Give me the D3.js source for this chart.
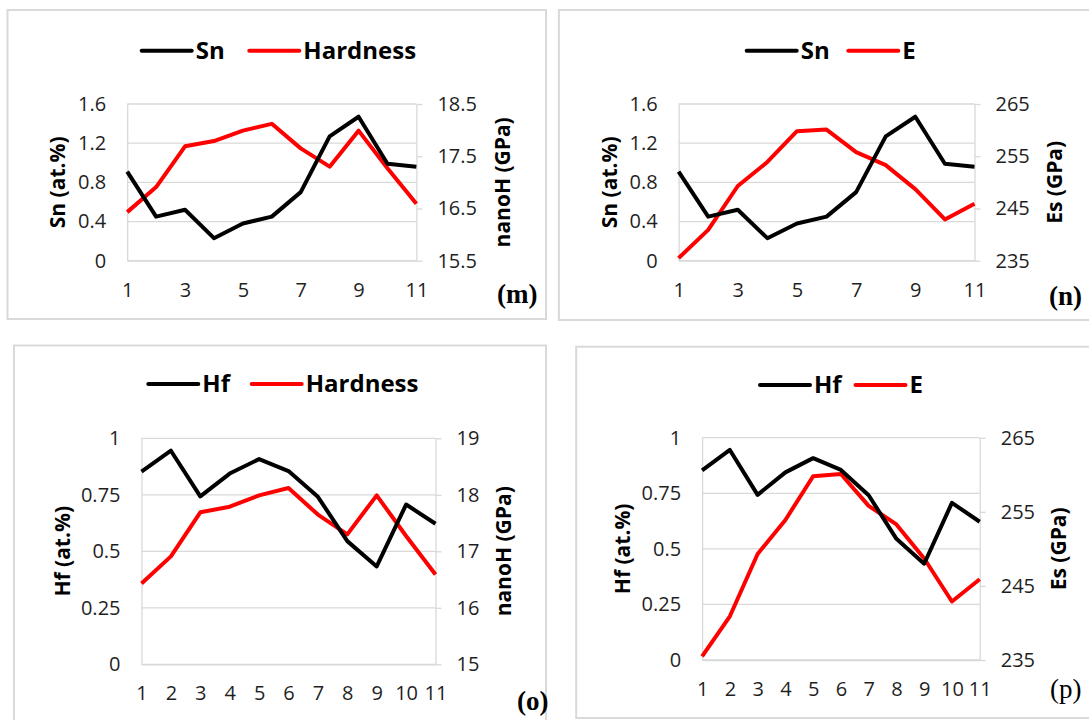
<!DOCTYPE html>
<html>
<head>
<meta charset="utf-8">
<script src="https://cdn.jsdelivr.net/npm/d3@7"></script>
<style>
  html, body { margin: 0; padding: 0; background: #fff; }
  svg { display: block; }
</style>
</head>
<body>
<svg id="chart" width="1089" height="720"></svg>
<script>
// Sample positions along the measured track
const positions = [1, 2, 3, 4, 5, 6, 7, 8, 9, 10, 11];

// Composition (at.%)
const snContent = [0.91, 0.45, 0.52, 0.23, 0.38, 0.45, 0.70, 1.27, 1.47, 0.99, 0.96];
const hfContent = [0.853, 0.945, 0.743, 0.844, 0.908, 0.855, 0.741, 0.545, 0.433, 0.707, 0.622];

// Mechanical properties (GPa)
const nanoHardness = [16.43, 16.91, 17.69, 17.79, 17.99, 18.12, 17.65, 17.30, 17.99, 17.27, 16.59];
const modulus = [235.5, 240.9, 249.3, 253.9, 259.8, 260.1, 255.8, 253.3, 248.7, 242.9, 245.9];

// Axis tick values
const snTicks = [0, 0.4, 0.8, 1.2, 1.6];
const hfTicks = [0, 0.25, 0.5, 0.75, 1];
const hardnessTicksTop = [15.5, 16.5, 17.5, 18.5];
const hardnessTicksBottom = [15, 16, 17, 18, 19];
const modulusTicks = [235, 245, 255, 265];
const oddPositions = [1, 3, 5, 7, 9, 11];
const allPositions = positions;

const FONT = "'Open Sans', 'Noto Sans', sans-serif";
const GRID = "#d9d9d9";
const LABEL = "#1f1f1f";

const panels = [
  {
    tag: "(m)", tagBold: true, tagX: 497, tagY: 303,
    frame: [7.5, 10, 546, 319],
    plot: { l: 127.2, t: 104, r: 416.4, b: 260.7 },
    left: { name: "Sn", title: "Sn (at.%)", values: snContent, ticks: snTicks, titleX: 57.5 },
    right: { name: "Hardness", title: "nanoH (GPa)", values: nanoHardness, ticks: hardnessTicksTop, titleX: 502.5 },
    xTicks: oddPositions, legendX: [141.7, 249.3], legendY: 50.7
  },
  {
    tag: "(n)", tagBold: true, tagX: 1049, tagY: 305,
    frame: [558.9, 10, 1100, 320],
    plot: { l: 678.6, t: 104, r: 974.5, b: 260.7 },
    left: { name: "Sn", title: "Sn (at.%)", values: snContent, ticks: snTicks, titleX: 609.2 },
    right: { name: "E", title: "Es (GPa)", values: modulus, ticks: modulusTicks, titleX: 1055 },
    xTicks: oddPositions, legendX: [746.7, 848.3], legendY: 50.7
  },
  {
    tag: "(o)", tagBold: true, tagX: 517, tagY: 710,
    frame: [14, 345.5, 546, 740],
    plot: { l: 141.5, t: 438.3, r: 435.5, b: 664.3 },
    left: { name: "Hf", title: "Hf (at.%)", values: hfContent, ticks: hfTicks, titleX: 62.6 },
    right: { name: "Hardness", title: "nanoH (GPa)", values: nanoHardness, ticks: hardnessTicksBottom, titleX: 504 },
    xTicks: allPositions, legendX: [148.3, 251.7], legendY: 384
  },
  {
    tag: "(p)", tagBold: false, tagX: 1050, tagY: 698,
    frame: [576.2, 346.7, 1100, 718],
    plot: { l: 702.1, t: 437.7, r: 979.7, b: 660 },
    left: { name: "Hf", title: "Hf (at.%)", values: hfContent, ticks: hfTicks, titleX: 623 },
    right: { name: "E", title: "Es (GPa)", values: modulus, ticks: modulusTicks, titleX: 1058.3 },
    xTicks: allPositions, legendX: [760, 855.5], legendY: 385
  }
];

const svg = d3.select("#chart");
svg.append("rect").attr("width", 1089).attr("height", 720).attr("fill", "#fff");

panels.forEach(p => {
  const g = svg.append("g");
  const { l, t, r, b } = p.plot;

  // outer frame of the panel
  g.append("rect")
    .attr("x", p.frame[0]).attr("y", p.frame[1])
    .attr("width", p.frame[2] - p.frame[0]).attr("height", p.frame[3] - p.frame[1])
    .attr("fill", "none").attr("stroke", GRID).attr("stroke-width", 2);

  const x = d3.scaleLinear().domain([1, 11]).range([l, r]);
  const yL = d3.scaleLinear().domain([p.left.ticks[0], p.left.ticks[p.left.ticks.length - 1]]).range([b, t]);
  const yR = d3.scaleLinear().domain([p.right.ticks[0], p.right.ticks[p.right.ticks.length - 1]]).range([b, t]);

  // horizontal gridlines on the primary axis ticks
  g.append("g").selectAll("line").data(p.left.ticks).join("line")
    .attr("x1", l).attr("x2", r)
    .attr("y1", d => yL(d)).attr("y2", d => yL(d))
    .attr("stroke", GRID).attr("stroke-width", 1.3);

  // primary (left) axis
  const axL = g.append("g").attr("transform", `translate(${l},0)`)
    .call(d3.axisLeft(yL).tickValues(p.left.ticks).tickSize(0).tickPadding(21).tickFormat(d => String(d)));
  axL.select(".domain").attr("stroke", GRID).attr("stroke-width", 1.3);

  // secondary (right) axis
  const axR = g.append("g").attr("transform", `translate(${r},0)`)
    .call(d3.axisRight(yR).tickValues(p.right.ticks).tickSize(6).tickSizeOuter(0).tickPadding(15).tickFormat(d => String(d)));
  axR.select(".domain").attr("stroke", GRID).attr("stroke-width", 1.3);
  axR.selectAll(".tick line").attr("stroke", GRID).attr("stroke-width", 1.3);

  // category axis
  const axB = g.append("g").attr("transform", `translate(0,${b})`)
    .call(d3.axisBottom(x).tickValues(p.xTicks).tickSize(0).tickPadding(22).tickFormat(d => String(d)));
  axB.select(".domain").attr("stroke", GRID).attr("stroke-width", 1.3);

  [axL, axR, axB].forEach(a => a.selectAll("text")
    .attr("font-family", FONT).attr("font-size", 20).attr("fill", LABEL));

  // axis titles
  const titleY = (t + b) / 2;
  [[p.left.titleX, p.left.title], [p.right.titleX, p.right.title]].forEach(([tx, txt]) => {
    g.append("text")
      .attr("transform", `translate(${tx},${titleY}) rotate(-90)`)
      .attr("text-anchor", "middle").attr("dy", "0.35em")
      .attr("font-family", FONT).attr("font-weight", 700).attr("font-size", 21)
      .attr("fill", "#000").text(txt);
  });

  // series
  const lineR = d3.line().x((d, i) => x(positions[i])).y(d => yR(d));
  const lineL = d3.line().x((d, i) => x(positions[i])).y(d => yL(d));
  g.append("path").datum(p.right.values).attr("d", lineR)
    .attr("fill", "none").attr("stroke", "#ff0000").attr("stroke-width", 4)
    .attr("stroke-linejoin", "round");
  g.append("path").datum(p.left.values).attr("d", lineL)
    .attr("fill", "none").attr("stroke", "#000").attr("stroke-width", 4)
    .attr("stroke-linejoin", "round");

  // legend
  const legendItems = [{ name: p.left.name, color: "#000" }, { name: p.right.name, color: "#ff0000" }];
  legendItems.forEach((it, i) => {
    const lx = p.legendX[i];
    g.append("line")
      .attr("x1", lx).attr("x2", lx + 50)
      .attr("y1", p.legendY).attr("y2", p.legendY)
      .attr("stroke", it.color).attr("stroke-width", 4).attr("stroke-linecap", "round");
    g.append("text")
      .attr("x", lx + 54).attr("y", p.legendY).attr("dy", "0.35em")
      .attr("font-family", FONT).attr("font-weight", 700).attr("font-size", 24)
      .attr("fill", "#000").text(it.name);
  });

  // panel tag
  g.append("text")
    .attr("x", p.tagX).attr("y", p.tagY)
    .attr("font-family", "'Liberation Serif', 'DejaVu Serif', serif")
    .attr("font-weight", p.tagBold ? 700 : 400).attr("font-size", 27)
    .attr("fill", "#000").text(p.tag);
});
</script>
</body>
</html>
